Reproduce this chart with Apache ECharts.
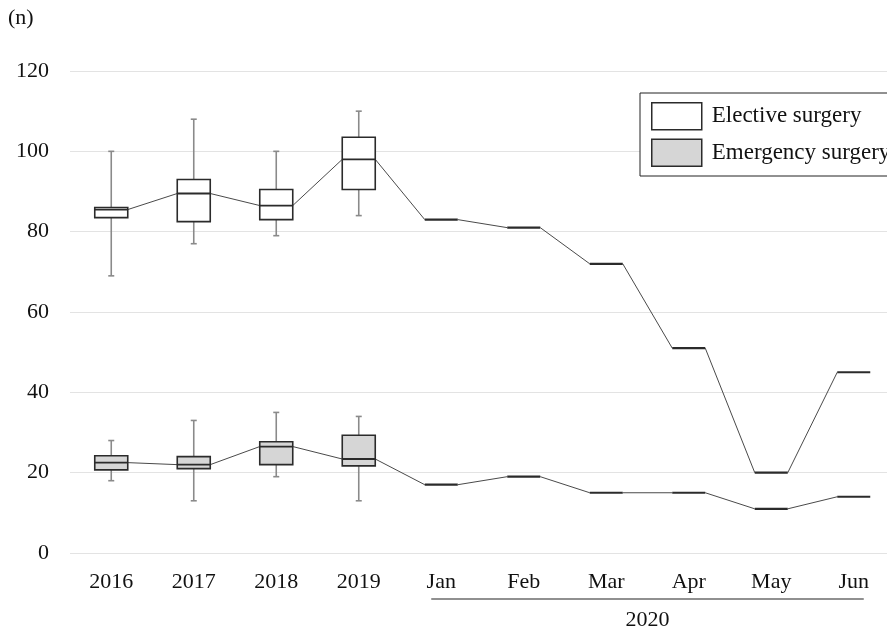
<!DOCTYPE html>
<html>
<head>
<meta charset="utf-8">
<script src="https://cdn.jsdelivr.net/npm/echarts@6/dist/echarts.min.js"></script>
<style>
  html, body { margin: 0; padding: 0; background: #fff; overflow: hidden; }
  #wrap { width: 887px; height: 632px; overflow: hidden; }
  #chart { width: 895px; height: 632px; }
</style>
</head>
<body>
<div id="wrap"><div id="chart"></div></div>
<script>
// Categories: four yearly summaries followed by the 2020 months
const categories = ['2016', '2017', '2018', '2019', 'Jan', 'Feb', 'Mar', 'Apr', 'May', 'Jun'];
const yearCount = 4;

// Yearly monthly-count distributions: [min, Q1, median, Q3, max]
const electiveYearly = [
  [69, 83.5, 85.5, 86, 100],
  [77, 82.5, 89.5, 93, 108],
  [79, 83, 86.5, 90.5, 100],
  [84, 90.5, 98, 103.5, 110]
];
const emergencyYearly = [
  [18, 20.7, 22.5, 24.2, 28],
  [13, 21, 22, 24, 33],
  [19, 22, 26.5, 27.7, 35],
  [13, 21.7, 23.4, 29.3, 34]
];

// 2020 monthly counts (Jan–Jun)
const electiveMonthly = [83, 81, 72, 51, 20, 45];
const emergencyMonthly = [17, 19, 15, 15, 11, 14];

// Y axis ticks
const yMin = 0, yMax = 120, yStep = 20;

const FONT = 'Liberation Serif';

function toItems(yearly, monthly) {
  const items = yearly.map((s, i) => [i].concat(s));
  monthly.forEach((v, j) => items.push([yearCount + j, v, v, v, v, v]));
  return items;
}
function toLinks(items) {
  const links = [];
  for (let i = 0; i < items.length - 1; i++) {
    links.push([items[i][0], items[i][3], items[i + 1][3]]);
  }
  return links;
}

const electiveItems = toItems(electiveYearly, electiveMonthly);
const emergencyItems = toItems(emergencyYearly, emergencyMonthly);

function boxRenderer(fill) {
  return function (params, api) {
    const idx = api.value(0);
    const vMin = api.value(1), q1 = api.value(2), med = api.value(3), q3 = api.value(4), vMax = api.value(5);
    const band = api.size([1, 0])[0];
    const hw = band * 0.2;
    const cx = api.coord([idx, med])[0];
    const yMed = api.coord([idx, med])[1];
    if (vMin === vMax) {
      return {
        type: 'line',
        shape: { x1: cx - hw, y1: yMed, x2: cx + hw, y2: yMed },
        style: { stroke: '#2b2b2b', lineWidth: 2.2 }
      };
    }
    const yLo = api.coord([idx, vMin])[1];
    const yHi = api.coord([idx, vMax])[1];
    const yQ1 = api.coord([idx, q1])[1];
    const yQ3 = api.coord([idx, q3])[1];
    const cap = 3;
    const whisker = { stroke: '#8a8a8a', lineWidth: 1.6 };
    return {
      type: 'group',
      children: [
        { type: 'line', shape: { x1: cx, y1: yLo, x2: cx, y2: yHi }, style: whisker },
        { type: 'line', shape: { x1: cx - cap, y1: yLo, x2: cx + cap, y2: yLo }, style: whisker },
        { type: 'line', shape: { x1: cx - cap, y1: yHi, x2: cx + cap, y2: yHi }, style: whisker },
        {
          type: 'rect',
          shape: { x: cx - hw, y: yQ3, width: hw * 2, height: yQ1 - yQ3 },
          style: { fill: fill, stroke: '#2b2b2b', lineWidth: 1.6 }
        },
        {
          type: 'line',
          shape: { x1: cx - hw, y1: yMed, x2: cx + hw, y2: yMed },
          style: { stroke: '#2b2b2b', lineWidth: 1.8 }
        }
      ]
    };
  };
}

function linkRenderer(params, api) {
  const idx = api.value(0);
  const a = api.value(1), b = api.value(2);
  const band = api.size([1, 0])[0];
  const hw = band * 0.2;
  const p1 = api.coord([idx, a]);
  const p2 = api.coord([idx + 1, b]);
  return {
    type: 'line',
    shape: { x1: p1[0] + hw, y1: p1[1], x2: p2[0] - hw, y2: p2[1] },
    style: { stroke: '#4a4a4a', lineWidth: 1 }
  };
}

const chart = echarts.init(document.getElementById('chart'), null, { renderer: 'canvas' });

const option = {
  backgroundColor: '#ffffff',
  animation: false,
  textStyle: { fontFamily: FONT },
  grid: { left: 70, right: 0, top: 71, bottom: 79, containLabel: false },
  legend: {
    orient: 'vertical',
    left: 640,
    top: 93,
    padding: [9, 30, 9, 11],
    itemGap: 8,
    itemWidth: 50,
    itemHeight: 27,
    borderColor: '#222',
    borderWidth: 1,
    backgroundColor: '#fff',
    borderRadius: 0,
    selectedMode: false,
    textStyle: { fontFamily: FONT, fontSize: 23, color: '#111', padding: [0, 0, 0, 5] },
    data: [
      { name: 'Elective surgery', icon: 'rect', itemStyle: { color: '#ffffff', borderColor: '#2b2b2b', borderWidth: 1.5 } },
      { name: 'Emergency surgery', icon: 'rect', itemStyle: { color: '#d6d6d6', borderColor: '#2b2b2b', borderWidth: 1.5 } }
    ]
  },
  xAxis: {
    type: 'category',
    data: categories,
    boundaryGap: true,
    axisLine: { show: false },
    axisTick: { show: false },
    axisLabel: { fontFamily: FONT, fontSize: 22, color: '#111', margin: 18 },
    splitLine: { show: false }
  },
  yAxis: {
    type: 'value',
    min: yMin,
    max: yMax,
    interval: yStep,
    axisLine: { show: false },
    axisTick: { show: false },
    axisLabel: { fontFamily: FONT, fontSize: 22, color: '#111', margin: 21 },
    splitLine: { lineStyle: { color: '#e3e3e3', width: 1.2 } }
  },
  series: [
    {
      name: 'elective-link', type: 'custom', renderItem: linkRenderer,
      data: toLinks(electiveItems), encode: { x: 0, y: [1, 2] }, z: 1, silent: true
    },
    {
      name: 'emergency-link', type: 'custom', renderItem: linkRenderer,
      data: toLinks(emergencyItems), encode: { x: 0, y: [1, 2] }, z: 1, silent: true
    },
    {
      name: 'Elective surgery', type: 'custom', renderItem: boxRenderer('#ffffff'),
      data: electiveItems, encode: { x: 0, y: [1, 2, 3, 4, 5] }, z: 2,
      itemStyle: { color: '#ffffff', borderColor: '#2b2b2b' }
    },
    {
      name: 'Emergency surgery', type: 'custom', renderItem: boxRenderer('#d6d6d6'),
      data: emergencyItems, encode: { x: 0, y: [1, 2, 3, 4, 5] }, z: 2,
      itemStyle: { color: '#d6d6d6', borderColor: '#2b2b2b' }
    }
  ]
};

chart.setOption(option);

// Unit label and the 2020 bracket under the monthly categories
const janX = chart.convertToPixel({ xAxisIndex: 0 }, 'Jan');
const junX = chart.convertToPixel({ xAxisIndex: 0 }, 'Jun');
const baseY = chart.convertToPixel({ yAxisIndex: 0 }, 0);
chart.setOption({
  graphic: [
    {
      type: 'text', left: 8, top: 7,
      style: { text: '(n)', font: '22px "' + FONT + '"', fill: '#111' }
    },
    {
      type: 'line',
      shape: { x1: janX - 10, y1: baseY + 46, x2: junX + 10, y2: baseY + 46 },
      style: { stroke: '#222', lineWidth: 1.2 }
    },
    {
      type: 'text',
      x: (janX + junX) / 2, y: baseY + 67,
      style: { text: '2020', font: '22px "' + FONT + '"', fill: '#111', align: 'center', verticalAlign: 'middle' }
    }
  ]
});
</script>
</body>
</html>
